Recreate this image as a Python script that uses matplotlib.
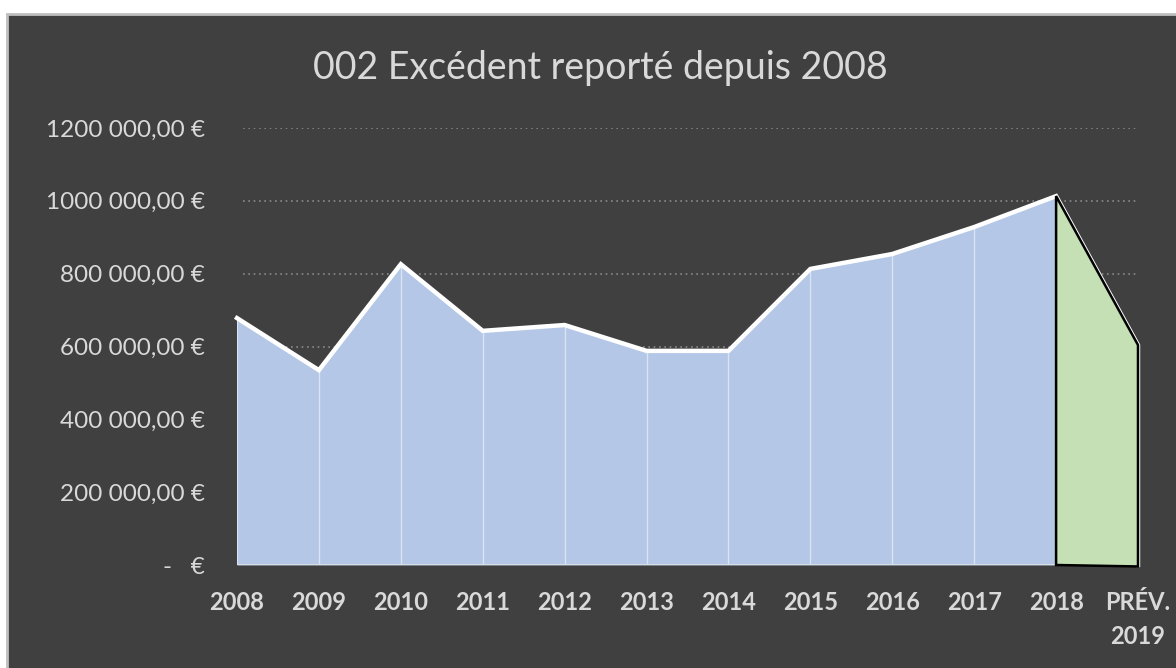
import matplotlib
matplotlib.use("Agg")
import matplotlib.pyplot as plt
from matplotlib.patches import Rectangle
from matplotlib.ticker import FixedLocator

# Data
categories = ["2008", "2009", "2010", "2011", "2012", "2013", "2014",
              "2015", "2016", "2017", "2018", "PRÉV.\n2019"]
excedent = [678000, 535000, 826000, 643000, 659000, 588000, 588000,
            813000, 854000, 928000, 1013000, 604000]
y_ticks = [0, 200000, 400000, 600000, 800000, 1000000, 1200000]
y_tick_labels = ["-   €", "200 000,00 €", "400 000,00 €", "600 000,00 €",
                 "800 000,00 €", "1000 000,00 €", "1200 000,00 €"]
title = "002 Excédent reporté depuis 2008"

BG = "#404040"
TEXT = "#d9d9d9"
BLUE = "#b4c7e7"
GREEN = "#c5e0b4"

plt.rcParams["font.family"] = ["Lato", "DejaVu Sans"]

W, H = 1176, 668
fig = plt.figure(figsize=(W / 100, H / 100), dpi=100, facecolor="white")

# Chart panel with a light border
fig.patches.append(Rectangle((7 / W, -0.01), 1.0, (H - 13.5) / H + 0.01,
                             transform=fig.transFigure, facecolor=BG,
                             edgecolor="#bfbfbf", linewidth=2.0, zorder=-10))

ax = fig.add_axes([237 / W, (H - 565) / H, (1138 - 237) / W, (565 - 128) / H])
ax.set_facecolor("none")
ax.set_zorder(1)

n = len(categories)
x = list(range(n))
hist_x = x[:-1]
hist_y = excedent[:-1]

ax.set_xlim(0, n - 1)
ax.set_ylim(0, 1200000)

# Dotted gridlines
for t in y_ticks[1:]:
    ax.plot([0.07, n - 1 - 0.03], [t, t], linestyle=(0, (1, 2.2)), color="#8a8a8a",
            linewidth=1.2, zorder=1)

# Historical area
ax.fill_between(hist_x, 0, hist_y, color=BLUE, linewidth=0, zorder=2)
# Category separators inside the area
for xi, yi in zip(hist_x[1:], hist_y[1:]):
    ax.plot([xi, xi], [0, yi], color="#dbe4f4", linewidth=1.0, zorder=3)
# Baseline
ax.plot([0, n - 2], [0, 0], color="#e0e0e0", linewidth=2.0, zorder=3)
ax.plot([0, 0], [0, hist_y[0]], color="#dbe4f4", linewidth=1.5, zorder=3)

# Overall trend line, closing down the forecast edge
ax.plot(x + [n - 1], excedent + [0], color="white", linewidth=3.2,
        solid_joinstyle="miter", zorder=4, clip_on=False)

# Forecast area
fx = [n - 2, n - 1, n - 1, n - 2]
fy = [excedent[-2], excedent[-1], -4000, 0]
ax.fill(fx, fy, facecolor=GREEN, edgecolor="black", linewidth=1.8,
        joinstyle="miter", zorder=5, clip_on=False)

# Axes styling
for s in ax.spines.values():
    s.set_visible(False)
ax.yaxis.set_major_locator(FixedLocator(y_ticks))
ax.set_yticklabels(y_tick_labels)
ax.set_xticks(x)
ax.set_xticklabels(categories, fontweight="bold", linespacing=1.6)
for lab in ax.get_xticklabels():
    lab.set_verticalalignment("top")
ax.tick_params(axis="y", length=0, pad=23, labelsize=17.5, labelcolor=TEXT)
ax.tick_params(axis="x", length=0, pad=18.5, labelsize=17, labelcolor=TEXT)

fig.text(600 / W, 1 - 68 / H, title, ha="center", va="center",
         color=TEXT, fontsize=27)

fig.savefig("out.png", dpi=100, facecolor=fig.get_facecolor())
